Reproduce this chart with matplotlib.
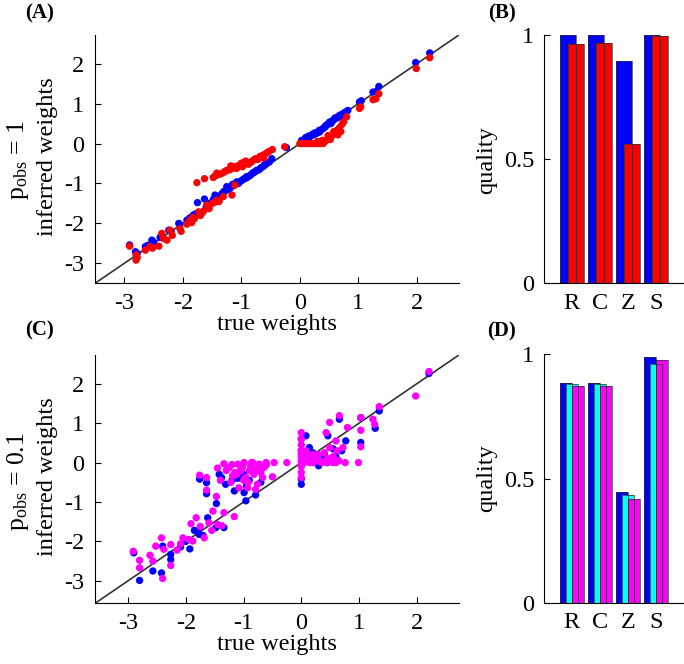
# weights comparison figure: two scatter panels (true vs inferred)
# and two small bar panels with the quality scores

import matplotlib
matplotlib.use("Agg")
import matplotlib.pyplot as plt

plt.rcParams["font.family"] = ["Liberation Serif", "DejaVu Serif"]
plt.rcParams["mathtext.default"] = "regular"
plt.rcParams["axes.unicode_minus"] = False
plt.rcParams["font.size"] = 17.5

# ---- panel A (p_obs = 1) ----
a_blue_x = [-2.91, -2.81, -2.78, -2.64, -2.60, -2.53, -2.50, -2.39, -2.35, -2.24,
            -2.20, -2.07, -2.05, -1.93, -1.88, -1.82, -1.78, -1.75, -1.63, -1.60,
            -1.55, -1.45, -1.40, -1.35, -1.30, -1.25, -1.22, -1.18, -1.12, -1.08,
            -1.05, -1.00, -0.97, -0.93, -0.91, -0.88, -0.85, -0.82, -0.78, -0.74,
            -0.70, -0.66, -0.62, -0.58, -0.52, -0.48, -0.23,
            0.03, 0.08, 0.12, 0.17, 0.20, 0.24, 0.28, 0.31, 0.34, 0.37,
            0.40, 0.43, 0.46, 0.51, 0.55, 0.58, 0.62, 0.65, 0.68, 0.72,
            0.76, 0.82, 1.02, 1.05, 1.25, 1.30, 1.35, 1.98, 2.22,
            -1.15, -0.95, -0.80, -0.60, 0.15, 0.26, 0.44, 0.53, 0.60, 0.70,
            -1.48, -1.33, -1.20, -1.02, -0.90, -0.76, -0.68, -0.55, 0.10, 0.22,
            0.33, 0.48, 0.57, 0.66, 0.78]
a_blue_y = [-2.54, -2.71, -2.75, -2.58, -2.55, -2.42, -2.47, -2.35, -2.33, -2.17,
            -2.20, -2.00, -2.03, -1.92, -1.86, -1.79, -1.76, -1.48, -1.39, -1.58,
            -1.50, -1.29, -1.35, -1.30, -1.20, -1.08, -1.15, -1.08, -1.03, -0.96,
            -1.00, -0.93, -0.90, -0.87, -0.83, -0.82, -0.80, -0.76, -0.72, -0.67,
            -0.66, -0.60, -0.57, -0.52, -0.46, -0.38, -0.10,
            0.08, 0.10, 0.14, 0.17, 0.20, 0.22, 0.25, 0.28, 0.29, 0.35,
            0.38, 0.41, 0.46, 0.54, 0.55, 0.60, 0.63, 0.67, 0.71, 0.73,
            0.77, 0.83, 1.04, 1.07, 1.29, 1.30, 1.43, 2.03, 2.27,
            -1.02, -0.88, -0.73, -0.52, 0.19, 0.27, 0.45, 0.50, 0.64, 0.69,
            -1.40, -1.25, -1.12, -0.95, -0.85, -0.70, -0.63, -0.48, 0.15, 0.24,
            0.33, 0.49, 0.58, 0.66, 0.79]

a_red_x = [-2.91, -2.80, -2.80, -2.78, -2.64, -2.56, -2.52, -2.41, -2.36, -2.33,
           -2.27, -2.22, -2.18, -2.05, -2.03, -1.93, -1.88, -1.85, -1.80, -1.73,
           -1.70, -1.65, -1.59, -1.55, -1.50, -1.42, -1.38, -1.31, -1.16, -1.11,
           -1.76, -1.63, -1.48, -1.45, -1.40, -1.35, -1.30, -1.25, -1.20, -1.15,
           -1.10, -1.05, -1.02, -0.98, -0.95, -0.90, -0.85, -0.80, -0.76, -0.72,
           -0.68, -0.63, -0.58, -0.53, -0.47, -0.26,
           0.00, 0.05, 0.10, 0.15, 0.20, 0.25, 0.30, 0.35, 0.40, 0.30,
           0.38, 0.45, 0.50, 0.48, 0.55, 0.60, 0.63, 0.58, 0.68, 0.72,
           0.75, 0.80, 1.02, 1.04, 1.25, 1.30, 1.35, 1.99, 2.22,
           -1.28, -1.12, -1.00, -0.88, -0.70, -0.62, 0.42, 0.52, 0.65, 0.70,
           -1.42, -1.18, -1.08, -0.93, -0.82, -0.55, -1.83, -1.68, -1.45, 0.35]
a_red_y = [-2.57, -2.92, -2.79, -2.85, -2.67, -2.58, -2.62, -2.57, -2.25, -2.38,
           -2.42, -2.17, -2.30, -2.13, -2.20, -2.02, -1.92, -1.98, -1.88, -1.71,
           -1.80, -1.70, -1.54, -1.63, -1.50, -1.42, -1.45, -1.33, -1.29, -1.04,
           -0.98, -0.88, -0.85, -0.81, -0.78, -0.76, -0.72, -0.67, -0.66, -0.62,
           -0.60, -0.55, -0.54, -0.58, -0.50, -0.47, -0.48, -0.42, -0.38, -0.40,
           -0.32, -0.29, -0.25, -0.20, -0.15, -0.08,
           0.00, 0.00, 0.00, 0.00, 0.00, 0.00, 0.00, 0.00, 0.00, 0.05,
           0.08, 0.08, 0.12, 0.20, 0.20, 0.25, 0.33, 0.30, 0.40, 0.48,
           0.55, 0.67, 0.88, 0.92, 1.10, 1.12, 1.25, 1.88, 2.15,
           -0.70, -0.58, -0.49, -0.52, -0.36, -0.36, 0.04, 0.10, 0.22, 0.30,
           -0.74, -0.56, -0.62, -0.44, -0.45, -0.22, -1.85, -1.75, -1.47, 0.03]

# ---- panel C (p_obs = 0.1) ----
c_blue_x = [-2.90, -2.80, -2.57, -2.42, -2.40, -2.26, -2.26, -2.09, -1.93, -1.77,
            -1.78, -1.62, -1.47, -1.64, -1.64, -1.76, -1.42, -1.31, -1.16, -0.96,
            -0.79, -0.99, -1.34, -1.48, -2.00, -1.85, -1.70, -1.38, -1.20, -1.10,
            -1.00, -0.90, -0.85, -0.70, -0.95, -1.05,
            0.00, 0.00, 0.08, 0.14, 0.30, 0.46, 0.66, 0.77, 1.03, 1.03,
            1.28, 1.35, 2.21, 0.10, 0.20, 0.25, 0.35, 0.40, 0.50, 0.55,
            0.60, 0.70, 0.00, 0.00, 0.45, 0.15]
c_blue_y = [-2.29, -2.99, -2.75, -2.80, -2.12, -2.46, -2.33, -2.14, -2.19, -1.82,
            -1.78, -1.40, -1.04, -0.51, -0.79, -0.42, -0.30, -0.55, -0.72, -0.97,
            -0.82, -0.76, -1.65, -1.65, -2.00, -1.72, -1.85, -0.38, -0.45, -0.40,
            -0.30, -0.45, -0.20, -0.50, -0.60, -0.20,
            -0.55, -0.42, 0.68, 0.38, -0.08, 0.68, 1.10, 0.55, 0.51, 1.14,
            0.87, 1.31, 2.26, 0.20, 0.25, 0.15, 0.10, 0.20, 0.05, 0.35,
            0.15, 0.30, 0.30, 0.60, 0.00, 0.05]

c_mag_x = [-2.91, -2.80, -2.80, -2.62, -2.57, -2.52, -2.42, -2.40, -2.38, -2.26,
           -2.26, -2.09, -2.05, -1.88, -1.91, -1.82, -1.68, -1.60, -1.53, -1.45,
           -1.34, -1.16, -1.64, -1.76, -1.64, -1.47, -1.45, -1.34, -1.25, -1.19,
           -1.10, -1.05, -0.99, -0.96, -0.90, -0.84, -0.79, -0.73, -0.67, -0.61,
           -0.50, -0.47, -0.25, -0.93, -0.79, -1.08, -1.30, -1.20, -1.15, -1.00,
           -0.88, -0.70, -0.60, -1.40, -1.02,
           0.00, 0.00, 0.00, 0.00, 0.00, 0.00, 0.00, 0.00, 0.08, 0.20,
           0.31, 0.43, 0.60, 0.76, 0.99, 0.43, 0.49, 0.66, 0.80, 0.72,
           0.60, 0.49, 1.03, 1.03, 1.03, 1.24, 1.27, 1.35, 1.98, 2.21,
           0.05, 0.10, 0.15, 0.25, 0.35, 0.50, 0.55, 0.65, 0.12, 0.30,
           0.40, 0.55, 0.62, 0.20, 0.45,
           -1.12, -1.02, -0.92, -0.82, -0.76, -0.70, -0.64, -1.22, -0.98, -0.86,
           0.00, 0.00, 0.00, 0.35, 0.58, -2.15, -1.95, -1.75, -1.55, -1.38]
c_mag_y = [-2.25, -2.48, -2.67, -2.35, -2.50, -2.12, -1.91, -2.94, -2.20, -2.08,
           -2.61, -2.06, -1.91, -1.99, -1.55, -1.40, -1.91, -1.53, -1.23, -1.57,
           -1.27, -1.37, -0.38, -0.32, -0.70, -0.86, -0.14, -0.03, -0.13, -0.34,
           -0.04, -0.21, 0.00, -0.38, -0.21, 0.00, -0.17, -0.04, -0.38, 0.00,
           -0.36, 0.00, 0.00, -0.64, -0.68, -0.64, -0.20, -0.05, -0.25, -0.45,
           -0.10, -0.15, -0.05, -0.45, -0.12,
           0.76, 0.60, 0.45, 0.30, 0.15, -0.10, -0.25, -0.38, 0.30, 0.21,
           0.04, 0.00, 0.00, 0.00, 0.00, 0.76, 1.02, 1.19, 0.89, 0.38,
           0.55, 0.38, 0.82, 0.40, 1.14, 1.10, 0.97, 1.42, 1.69, 2.31,
           0.00, 0.05, 0.00, 0.05, 0.00, 0.10, 0.00, 0.05, 0.15, 0.20,
           0.25, 0.15, 0.30, 0.00, 0.10,
           -0.30, -0.10, -0.50, -0.30, -0.55, -0.25, -0.12, -0.50, -0.40, 0.00,
           0.05, -0.05, 0.22, 0.02, 0.05, -2.22, -1.95, -1.62, -1.72, -1.60]

# ---- bar panels ----
groups = ["R", "C", "Z", "S"]
b_blue = [1.0, 1.0, 0.895, 1.0]
b_red = [0.962, 0.966, 0.56, 0.997]
d_blue = [0.883, 0.883, 0.444, 0.989]
d_cyan = [0.879, 0.879, 0.432, 0.961]
d_mag = [0.874, 0.872, 0.417, 0.978]

A_LIM = (-3.5, 2.72)
C_LIM = (-3.57, 2.73)
FS = 17.5


def style_axes(ax, ypad):
    ax.spines["top"].set_visible(False)
    ax.spines["right"].set_visible(False)
    ax.tick_params(direction="in", length=4, width=0.8, labelsize=FS)
    ax.tick_params(axis="x", pad=7)
    ax.tick_params(axis="y", pad=ypad)


def scatter_panel(ax, series, lim):
    ax.plot(lim, lim, color="#333333", lw=1.2, zorder=1)
    for xs, ys, c in series:
        ax.scatter(xs, ys, s=28, color=c, edgecolors="none", zorder=2)
    ax.set_xlim(lim)
    ax.set_ylim(lim)
    ax.set_xticks([-3, -2, -1, 0, 1, 2])
    ax.set_yticks([-3, -2, -1, 0, 1, 2])
    ax.set_xlabel("true weights", fontsize=FS, labelpad=0)
    style_axes(ax, 8)


def bar_panel(ax, series, width):
    pos = [1, 2, 3, 4]
    # fills first, then every outline on top (edges show through the overlap)
    for offset, vals, c in series:
        ax.bar([p + offset for p in pos], vals, width=width, color=c,
               edgecolor="none", zorder=2)
    for offset, vals, c in series:
        ax.bar([p + offset for p in pos], vals, width=width, fill=False,
               edgecolor="#303030", lw=0.5, zorder=3)
    ax.set_xlim(0, 5)
    ax.set_ylim(0, 1)
    ax.set_xticks(pos)
    ax.set_xticklabels(groups)
    ax.set_yticks([0, 0.5, 1])
    ax.set_yticklabels(["0", "0.5", "1"])
    style_axes(ax, 7)
    ax.tick_params(axis="x", length=0)


fig = plt.figure(figsize=(6.84, 6.64), dpi=100)

ax_a = fig.add_axes([0.139, 0.5734, 0.532, 0.3739])
scatter_panel(ax_a, [(a_blue_x, a_blue_y, "#0000ff"), (a_red_x, a_red_y, "#ff0000")], A_LIM)

ax_b = fig.add_axes([0.795, 0.5734, 0.205, 0.3739])
bar_panel(ax_b, [(-0.15, b_blue, "#0000ff"), (0.15, b_red, "#ff0000")], 0.57)

ax_c = fig.add_axes([0.139, 0.0914, 0.532, 0.3740])
scatter_panel(ax_c, [(c_blue_x, c_blue_y, "#0000ff"), (c_mag_x, c_mag_y, "#ff00ff")], C_LIM)

ax_d = fig.add_axes([0.795, 0.0923, 0.205, 0.3741])
bar_panel(ax_d, [(-0.21, d_blue, "#0000ff"), (0.0, d_cyan, "#00ffff"),
                 (0.21, d_mag, "#ff00ff")], 0.42)


# y labels, two lines each on the scatter panels
def px(x, y):
    return x / 684, 1 - y / 664


fig.text(*px(18, 160), r"$p_{obs}$ = 1", rotation=90, ha="center", va="center", fontsize=FS + 1)
fig.text(*px(48, 157), "inferred weights", rotation=90, ha="center", va="center", fontsize=FS)
fig.text(*px(18, 482), r"$p_{obs}$ = 0.1", rotation=90, ha="center", va="center", fontsize=FS + 1)
fig.text(*px(48, 477), "inferred weights", rotation=90, ha="center", va="center", fontsize=FS)
fig.text(*px(487, 160), "quality", rotation=90, ha="center", va="center", fontsize=FS)
fig.text(*px(487, 478), "quality", rotation=90, ha="center", va="center", fontsize=FS)

for lab, (x, y) in [("(A)", (40, 13)), ("(B)", (502, 13)), ("(C)", (40, 330)), ("(D)", (502, 331))]:
    fig.text(*px(x, y), lab, ha="center", va="center", fontsize=15, fontweight="bold")

fig.savefig("out.png", dpi=100)
